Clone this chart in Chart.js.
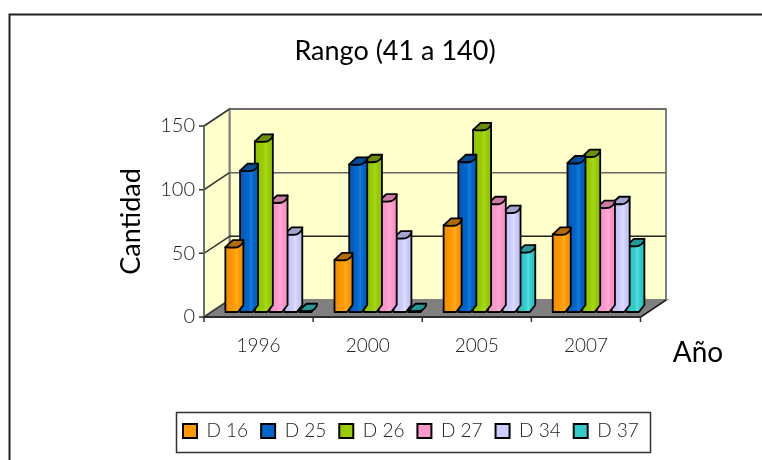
<!DOCTYPE html>
<html>
<head>
<meta charset="utf-8">
<style>body{margin:0;background:#fff}</style>
<script src="https://cdn.jsdelivr.net/npm/chart.js@4"></script>
</head>
<body>
<canvas id="grafico" width="762" height="460"></canvas>
<script>
const categorias = ["1996", "2000", "2005", "2007"];
const d16 = [51, 41, 68, 61];
const d25 = [111, 116, 118, 117];
const d26 = [134, 118, 143, 122];
const d27 = [86, 87, 85, 82];
const d34 = [61, 58, 78, 85];
const d37 = [1, 1, 47, 52];
const marcasY = [0, 50, 100, 150];

const nombres = ["D 16", "D 25", "D 26", "D 27", "D 34", "D 37"];
const series = [d16, d25, d26, d27, d34, d37];
const colores = ["#FF9900", "#0066CC", "#99CC00", "#FF99CC", "#CCCCFF", "#33CCCC"];
const oscuros = ["#B36B00", "#004C99", "#6B8F00", "#CC7AA3", "#A3A3CC", "#249999"];
const sombras = ["#F08C00", "#005CB8", "#8FBF00", "#F08CC0", "#BBBBEE", "#2CBBBB"];
const claros = ["#FFAA22", "#1A78D6", "#A8D81A", "#FFAAD6", "#DDDDFF", "#55DDDD"];

const fuente = "Lato, sans-serif";

// desplazamiento de la pared del fondo respecto al plano frontal
const fondoX = 25.5, fondoY = -17;
// las barras no salen del plano frontal sino un poco hacia dentro
const barraX = 11, barraY = -5;
// ancho del frente y profundidad de cada barra
const frente = 12.5, profX = 5.5, profY = -7;

function pared(ctx, puntos, relleno, borde) {
  ctx.beginPath();
  puntos.forEach((p, i) => i ? ctx.lineTo(p[0], p[1]) : ctx.moveTo(p[0], p[1]));
  ctx.closePath();
  if (relleno) { ctx.fillStyle = relleno; ctx.fill(); }
  if (borde) { ctx.strokeStyle = borde; ctx.stroke(); }
}

const caja3d = {
  id: "caja3d",
  afterLayout(chart) {
    chart.titleBlock.left = 0;
    chart.titleBlock.right = 790;
    chart.legend.left = 170;
    chart.legend.right = 762;
    chart.legend.top = 408.5;
  },
  beforeDatasetsDraw(chart) {
    const { ctx, chartArea: a, scales: { y, x } } = chart;
    ctx.save();
    // marco exterior
    ctx.strokeStyle = "#222";
    ctx.lineWidth = 2;
    ctx.beginPath();
    ctx.moveTo(9.5, 460); ctx.lineTo(9.5, 14.5); ctx.lineTo(762, 14.5);
    ctx.stroke();

    const izq = a.left, der = a.right, arr = a.top, aba = a.bottom;
    ctx.lineWidth = 2;
    // pared del fondo y lateral
    pared(ctx, [[izq + fondoX, arr + fondoY], [der + fondoX, arr + fondoY], [der + fondoX, aba + fondoY], [izq + fondoX, aba + fondoY]], "#FFFFCC", "#808080");
    pared(ctx, [[izq, arr], [izq + fondoX, arr + fondoY], [izq + fondoX, aba + fondoY], [izq, aba]], "#FFFFCC", "#808080");
    // suelo
    pared(ctx, [[izq, aba], [der, aba], [der + fondoX, aba + fondoY], [izq + fondoX, aba + fondoY]], "#808080", "#808080");

    // lineas de division
    ctx.lineWidth = 1.5;
    marcasY.forEach(v => {
      const py = y.getPixelForValue(v);
      if (v > 0) {
        ctx.strokeStyle = v === 50 ? "#222" : "#666";
        ctx.beginPath();
        ctx.moveTo(izq + fondoX, py + fondoY); ctx.lineTo(der + fondoX, py + fondoY);
        ctx.stroke();
      }
      ctx.strokeStyle = "#333";
      ctx.beginPath();
      ctx.moveTo(izq - 5, py); ctx.lineTo(izq, py); ctx.lineTo(izq + fondoX, py + fondoY);
      ctx.stroke();
    });

    // ejes
    ctx.strokeStyle = "#666";
    ctx.beginPath(); ctx.moveTo(izq, arr); ctx.lineTo(izq, aba); ctx.stroke();
    ctx.strokeStyle = "#111";
    ctx.beginPath();
    ctx.moveTo(izq, aba); ctx.lineTo(der, aba); ctx.lineTo(der + fondoX, aba + fondoY);
    ctx.stroke();
    // marcas del eje x, entre categorias
    const paso = x.getPixelForValue(1) - x.getPixelForValue(0);
    for (let i = 0; i <= categorias.length; i++) {
      const px = x.getPixelForValue(0) - paso / 2 + i * paso;
      ctx.strokeStyle = "#333";
      ctx.beginPath(); ctx.moveTo(px, aba); ctx.lineTo(px, aba + 5); ctx.stroke();
    }

    // rotulo del eje x a la derecha
    ctx.fillStyle = "#000";
    ctx.font = "400 28px " + fuente;
    ctx.textAlign = "center";
    ctx.textBaseline = "middle";
    ctx.fillText("Año", 698, 353);

    // marco de la leyenda
    ctx.strokeStyle = "#333";
    ctx.lineWidth = 1.5;
    ctx.strokeRect(176.5, 412.5, 474, 40);
    ctx.restore();
  },
  beforeDatasetDraw(chart, args) {
    const { ctx } = chart;
    const i = args.index;
    ctx.save();
    ctx.lineWidth = 1.8;
    ctx.lineJoin = "round";
    chart.getDatasetMeta(i).data.forEach(barra => {
      const l = barra.x - barra.width / 2 + barraX;
      const r = l + frente;
      const t = barra.y + barraY;
      const b = barra.base + barraY;
      // cuerpo: frente y lateral en una sola silueta
      const g = ctx.createLinearGradient(l, 0, r + profX, 0);
      g.addColorStop(0, sombras[i]);
      g.addColorStop(0.45, colores[i]);
      g.addColorStop(0.62, claros[i]);
      g.addColorStop(0.75, colores[i]);
      g.addColorStop(1, sombras[i]);
      pared(ctx, [[l, t], [r + profX, t + profY], [r + profX, b + profY], [r, b], [l, b]], g, "#000");
      // tapa, apenas redondeada
      ctx.beginPath();
      ctx.moveTo(l, t);
      ctx.quadraticCurveTo(l + frente * 0.6, t + 1, r, t);
      ctx.quadraticCurveTo(r + profX, t + profY / 2 + 1, r + profX, t + profY);
      ctx.lineTo(l + profX + 2, t + profY);
      ctx.lineTo(l, t);
      ctx.closePath();
      ctx.fillStyle = oscuros[i];
      ctx.fill();
      ctx.strokeStyle = "#000";
      ctx.stroke();
    });
    ctx.restore();
    return false;
  }
};

new Chart(document.getElementById("grafico"), {
  type: "bar",
  data: {
    labels: categorias,
    datasets: nombres.map((n, i) => ({
      label: n,
      data: series[i],
      backgroundColor: colores[i],
      borderColor: "#000",
      borderWidth: 2,
      barPercentage: 1,
      categoryPercentage: 0.81
    }))
  },
  options: {
    responsive: false,
    animation: false,
    layout: { padding: { left: 0, right: 121.5, top: 0, bottom: 0 } },
    plugins: {
      tooltip: { enabled: false },
      title: {
        display: true,
        text: "Rango (41 a 140)",
        color: "#000",
        font: { family: fuente, size: 27, weight: "400" },
        padding: { top: 35, bottom: 58.6 }
      },
      legend: {
        position: "bottom",
        align: "start",
        labels: {
          boxWidth: 14,
          boxHeight: 14,
          padding: 13,
          color: "#222",
          font: { family: fuente, size: 19, weight: "300" }
        }
      }
    },
    scales: {
      x: {
        grid: { display: false, drawTicks: false },
        border: { display: false },
        ticks: { color: "#222", padding: 17, maxRotation: 0, font: { family: fuente, size: 19, weight: "300" } },
        afterFit(s) { s.height = 460 - 317 - s.chart.legend.height; }
      },
      y: {
        min: 0,
        max: 150,
        grid: { display: false, drawTicks: false },
        border: { display: false },
        afterBuildTicks(s) { s.ticks = marcasY.map(v => ({ value: v })); },
        ticks: { color: "#222", padding: 9, font: { family: fuente, size: 20, weight: "300" } },
        title: {
          display: true,
          text: "Cantidad",
          color: "#000",
          font: { family: fuente, size: 27, weight: "400" },
          padding: { top: 115 }
        },
        afterFit(s) { s.width = 204; }
      }
    }
  },
  plugins: [caja3d]
});
</script>
</body>
</html>
